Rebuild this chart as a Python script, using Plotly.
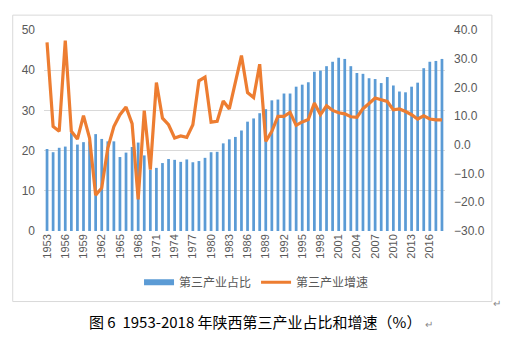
import plotly.graph_objects as go

years = [str(y) for y in range(1953, 2019)]
share = [20.4, 19.6, 20.7, 21.0, 24.4, 21.5, 22.1, 22.3, 24.1, 22.9,
         22.3, 22.3, 18.4, 19.5, 20.9, 22.0, 18.8, 15.2, 15.7, 16.9,
         17.9, 17.7, 17.2, 17.8, 17.1, 17.4, 18.2, 19.6, 19.7, 21.8,
         22.8, 23.4, 25.0, 27.2, 28.0, 29.3, 30.3, 32.5, 32.7, 34.2,
         34.2, 35.9, 36.4, 37.0, 39.6, 39.9, 41.0, 42.1, 43.1, 42.8,
         41.0, 39.3, 39.1, 38.0, 37.8, 36.8, 38.3, 36.2, 34.7, 34.5,
         35.9, 36.9, 40.5, 42.1, 42.3, 42.8]
growth = [35.7, 6.4, 4.7, 36.3, 4.7, 2.0, 10.2, 2.4, -17.5, -15.0,
          -1.1, 6.4, 10.5, 13.2, 7.4, -19.0, 11.9, -8.6, 21.7, 9.3,
          7.0, 2.4, 3.1, 2.6, 7.0, 22.3, 23.6, 7.9, 8.2, 15.3,
          12.5, 22.0, 31.1, 18.2, 16.5, 28.1, 1.2, 4.7, 9.9, 9.9,
          11.3, 6.8, 8.0, 8.8, 14.6, 10.5, 13.6, 12.0, 11.2, 10.8,
          9.8, 9.6, 12.6, 14.4, 16.3, 15.7, 15.1, 12.2, 12.5, 11.6,
          10.5, 9.0, 10.1, 9.0, 8.7, 8.7]
tick_years = years[::3]
name_share = "第三产业占比"
name_growth = "第三产业增速"
caption = "图 6  1953-2018 年陕西第三产业占比和增速（%）"

gray = "#595959"
blue = "#5B9BD5"
orange = "#ED7D31"
font_fam = "Liberation Sans, Noto Sans CJK SC, sans-serif"
cjk = "Noto Sans CJK SC, sans-serif"

fig = go.Figure()
fig.add_trace(go.Bar(x=years, y=share, name=name_share, showlegend=False,
                     marker=dict(color=blue, line=dict(width=0))))
fig.add_trace(go.Scatter(x=years, y=growth, name=name_growth, yaxis="y2",
                         mode="lines", showlegend=False,
                         line=dict(color=orange, width=3.2)))
# legend entries (Excel-style wide swatches)
fig.add_trace(go.Scatter(x=[None], y=[None], name=name_share, mode="lines",
                         line=dict(color=blue, width=6)))
fig.add_trace(go.Scatter(x=[None], y=[None], name=name_growth, mode="lines",
                         line=dict(color=orange, width=3)))

fig.update_layout(
    width=508, height=340,
    margin=dict(l=44, r=63, t=30, b=108.5, autoexpand=False),
    paper_bgcolor="white", plot_bgcolor="white",
    bargap=0.55,
    font=dict(family=font_fam, color=gray, size=11),
    xaxis=dict(type="category", tickmode="array", tickvals=tick_years,
               ticktext=tick_years, tickangle=-90, showgrid=False,
               showline=False, ticks="", tickfont=dict(size=11, color=gray)),
    yaxis=dict(range=[0, 50], dtick=10, showgrid=True, gridcolor="#d9d9d9",
               gridwidth=1, zeroline=False, showline=False, ticks="",
               ticklabelstandoff=8, tickfont=dict(size=12, color=gray)),
    yaxis2=dict(range=[-30, 40], dtick=10, tickformat=".1f", overlaying="y",
                side="right", showgrid=False, zeroline=False, showline=False,
                ticks="", ticklabelstandoff=8,
                tickfont=dict(size=12, color=gray)),
    legend=dict(orientation="h", x=0.53, xanchor="center", y=-0.255,
                yanchor="middle", font=dict(size=12, color=gray, family=cjk),
                itemwidth=30, tracegroupgap=0),
    showlegend=True,
)

# chart border
fig.add_shape(type="rect", xref="paper", yref="paper",
              x0=-0.078, x1=1.117, y0=-0.351, y1=1.074,
              line=dict(color="#d9d9d9", width=1), layer="below")

fig.add_annotation(
    text=caption + " <span style='font-size:10px;color:#888888'>↵</span>",
    xref="paper", yref="paper", x=0.54, y=-0.449, showarrow=False,
    xanchor="center", yanchor="middle",
    font=dict(size=15, color="black", family=cjk))
fig.add_annotation(text="↵", xref="paper", yref="paper", x=1.115, y=-0.362,
                   showarrow=False, xanchor="left", yanchor="middle",
                   font=dict(size=10, color="#888888"))

fig.write_html("out.html")
